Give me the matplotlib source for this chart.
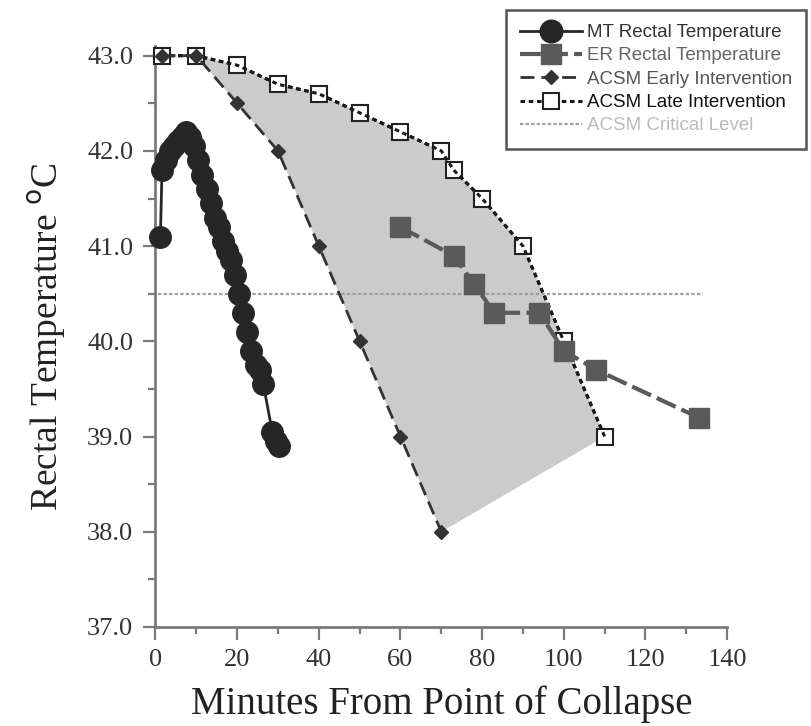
import numpy as np
import matplotlib
matplotlib.use('Agg')
from matplotlib import pyplot as plt
from matplotlib.ticker import MultipleLocator, FormatStrFormatter

# data
mt_time = [1.2, 1.6, 2.5, 3.5, 4.5, 5.5, 6.5, 7.5, 8.5, 9.5, 10.5, 11.5, 12.5, 13.5, 14.5,
           15.5, 16.5, 17.5, 18.5, 19.5, 20.5, 21.5, 22.5, 23.5, 24.5, 25.5, 26.4, 28.6, 29.5, 30.3]
mt_temp = [41.1, 41.8, 41.9, 42.0, 42.05, 42.1, 42.15, 42.2, 42.15, 42.05, 41.9, 41.75, 41.6, 41.45, 41.3,
           41.2, 41.05, 40.95, 40.85, 40.7, 40.5, 40.3, 40.1, 39.9, 39.75, 39.7, 39.55, 39.05, 38.95, 38.9]

er_time = [60, 73, 78, 83, 94, 100, 108, 133]
er_temp = [41.2, 40.9, 40.6, 40.3, 40.3, 39.9, 39.7, 39.2]

early_time = [1.5, 10, 20, 30, 40, 50, 60, 70]
early_temp = [43.0, 43.0, 42.5, 42.0, 41.0, 40.0, 39.0, 38.0]

late_time = [1.5, 10, 20, 30, 40, 50, 60, 70, 73, 80, 90, 100, 110]
late_temp = [43.0, 43.0, 42.9, 42.7, 42.6, 42.4, 42.2, 42.0, 41.8, 41.5, 41.0, 40.0, 39.0]

crit_level = 40.5
crit_span = [0.5, 134]

plt.rcParams['font.family'] = 'Liberation Serif'

fig = plt.figure(figsize=(8.12, 7.26), dpi=100)
ax = fig.add_axes([0.1915, 0.1364, 0.704, 0.80])

# shaded area between early and late intervention
poly_x = np.concatenate([early_time[1:], late_time[::-1][:-1]])
poly_y = np.concatenate([early_temp[1:], late_temp[::-1][:-1]])
ax.fill(poly_x, poly_y, color='#cbcbcb', lw=0, zorder=1)

ax.plot(crit_span, [crit_level, crit_level], color='#a0a0a0', lw=1.6,
        linestyle=(0, (1.5, 1)), zorder=2, label='ACSM Critical Level')

ax.plot(late_time, late_temp, color='#1a1a1a', lw=2.2, linestyle=(0, (1.5, 1.2)),
        marker='s', markersize=11, markerfacecolor='white', markeredgecolor='#222222',
        markeredgewidth=1.5, clip_on=False, zorder=3, label='ACSM Late Intervention')
ax.plot(late_time, late_temp, color='#1a1a1a', lw=2.2, linestyle=(0, (1.5, 1.2)),
        clip_on=False, zorder=4)

ax.plot(early_time, early_temp, color='#333333', lw=2, linestyle=(0, (5, 2.5)),
        marker='D', markersize=7, clip_on=False, zorder=4.5, label='ACSM Early Intervention')

ax.plot(er_time, er_temp, color='#5a5a5a', lw=3, linestyle=(0, (5, 1.5)),
        marker='s', markersize=14, clip_on=False, zorder=5, label='ER Rectal Temperature')

ax.plot(mt_time, mt_temp, color='#262626', lw=2, marker='o', markersize=15.5,
        clip_on=False, zorder=6, label='MT Rectal Temperature')

ax.set_xlim(0, 140)
ax.set_ylim(37, 43.1)
ax.xaxis.set_major_locator(MultipleLocator(20))
ax.xaxis.set_minor_locator(MultipleLocator(10))
ax.yaxis.set_major_locator(MultipleLocator(1))
ax.yaxis.set_minor_locator(MultipleLocator(0.5))
ax.yaxis.set_major_formatter(FormatStrFormatter('%.1f'))

for side in ['top', 'right']:
    ax.spines[side].set_visible(False)
for side in ['left', 'bottom']:
    ax.spines[side].set_color('#7a7a7a')
    ax.spines[side].set_linewidth(2)

ax.tick_params(which='major', direction='out', length=9, width=1.6, color='#7a7a7a',
               labelsize=19, labelcolor='#333333', pad=7)
ax.tick_params(which='minor', direction='out', length=5, width=1.6, color='#7a7a7a')

ax.set_xlabel('Minutes From Point of Collapse', fontsize=28, color='#222222', labelpad=10)
ax.set_ylabel('Rectal Temperature $^{\\mathrm{o}}$C', fontsize=27, color='#222222', labelpad=14)

handles, labels = ax.get_legend_handles_labels()
order = [4, 3, 2, 1, 0]
leg = ax.legend([handles[i] for i in order], [labels[i] for i in order],
                loc='upper right', bbox_to_anchor=(806 / 812, 1 - 10 / 726),
                bbox_transform=fig.transFigure, fancybox=False, framealpha=1,
                edgecolor='#555555', handlelength=3.3, handletextpad=0.25,
                labelspacing=0.33, borderpad=0.75, borderaxespad=0, markerscale=1.05,
                prop={'family': 'Liberation Sans', 'size': 13.5},
                labelcolor=['#333333', '#666666', '#555555', '#111111', '#bbbbbb'])
leg.get_frame().set_linewidth(1.8)

plt.savefig('out.png', dpi=100)
